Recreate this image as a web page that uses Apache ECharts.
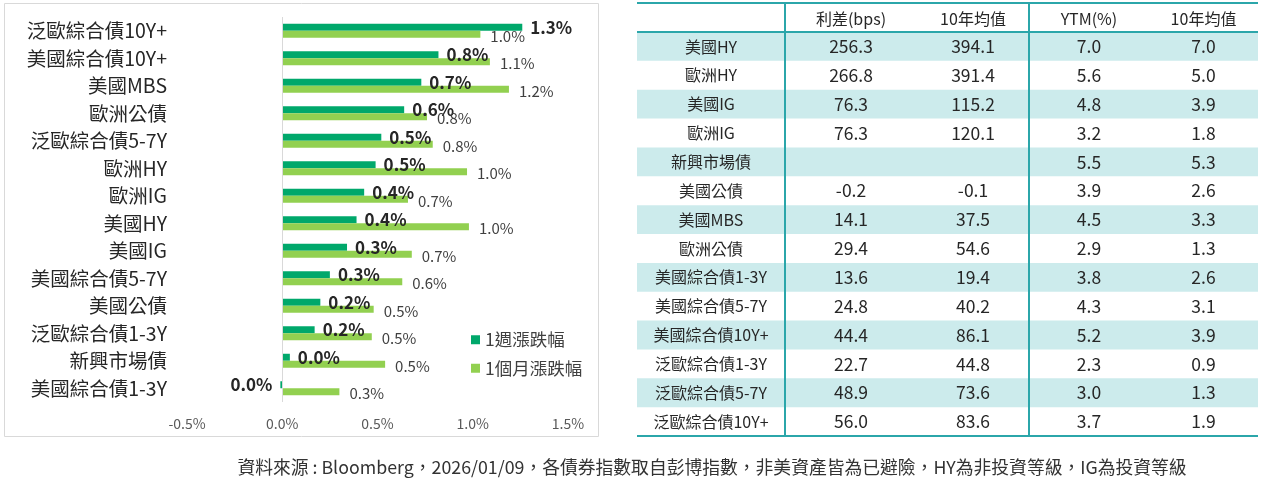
<!DOCTYPE html>
<html>
<head>
<meta charset="utf-8">
<script src="https://cdn.jsdelivr.net/npm/echarts@6/dist/echarts.min.js"></script>
<style>
	html, body { margin: 0; padding: 0; background: #fff; }
	#main { width: 1261px; height: 481px; }
</style>
</head>
<body>
<div id="main"></div>
<script>
// 左圖：漲跌幅 (%)
var categories = ['泛歐綜合債10Y+', '美國綜合債10Y+', '美國MBS', '歐洲公債', '泛歐綜合債5-7Y', '歐洲HY', '歐洲IG',
	'美國HY', '美國IG', '美國綜合債5-7Y', '美國公債', '泛歐綜合債1-3Y', '新興市場債', '美國綜合債1-3Y'];
var weekChg = [1.26, 0.82, 0.73, 0.64, 0.52, 0.49, 0.43, 0.39, 0.34, 0.25, 0.20, 0.17, 0.04, -0.01];
var monthChg = [1.04, 1.09, 1.19, 0.76, 0.79, 0.97, 0.66, 0.98, 0.68, 0.63, 0.48, 0.47, 0.54, 0.30];
var xTicks = [-0.5, 0, 0.5, 1.0, 1.5];

// 右表
var tableHeader = ['', '利差(bps)', '10年均值', 'YTM(%)', '10年均值'];
var tableNames = ['美國HY', '歐洲HY', '美國IG', '歐洲IG', '新興市場債', '美國公債', '美國MBS', '歐洲公債',
	'美國綜合債1-3Y', '美國綜合債5-7Y', '美國綜合債10Y+', '泛歐綜合債1-3Y', '泛歐綜合債5-7Y', '泛歐綜合債10Y+'];
var spread = [256.3, 266.8, 76.3, 76.3, null, -0.2, 14.1, 29.4, 13.6, 24.8, 44.4, 22.7, 48.9, 56.0];
var spreadAvg = [394.1, 391.4, 115.2, 120.1, null, -0.1, 37.5, 54.6, 19.4, 40.2, 86.1, 44.8, 73.6, 83.6];
var ytm = [7.0, 5.6, 4.8, 3.2, 5.5, 3.9, 4.5, 2.9, 3.8, 4.3, 5.2, 2.3, 3.0, 3.7];
var ytmAvg = [7.0, 5.0, 3.9, 1.8, 5.3, 2.6, 3.3, 1.3, 2.6, 3.1, 3.9, 0.9, 1.3, 1.9];

var sourceText = '資料來源 : Bloomberg，2026/01/09，各債券指數取自彭博指數，非美資產皆為已避險，HY為非投資等級，IG為投資等級';

var FONT = '"Noto Sans CJK TC", "Noto Sans", sans-serif';
var chart = echarts.init(document.getElementById('main'));

function pct(v) {
	return (Math.round(v * 10) / 10).toFixed(1) + '%';
}

// 表格
function buildTable() {
	var colEdges = [637, 785, 917, 1029, 1149, 1258];
	var top = 3, headH = 29, rowH = 28.86;
	var lineColor = '#2BA6AA';
	var els = [];
	var cols = [tableNames, spread, spreadAvg, ytm, ytmAvg];
	var bottom = top + headH + rowH * tableNames.length;

	for (var i = 0; i < tableNames.length; i++) {
		var y = top + headH + rowH * i;
		if (i % 2 == 0) {
			els.push({
				type: 'rect',
				shape: { x: colEdges[0], y: y, width: colEdges[5] - colEdges[0], height: rowH },
				style: { fill: '#CCEBEC' },
				silent: true
			});
		}
		for (var c = 0; c < cols.length; c++) {
			var v = cols[c][i];
			var txt = c == 0 ? v : (v == null ? '' : v.toFixed(1));
			els.push({
				type: 'text',
				x: (colEdges[c] + colEdges[c + 1]) / 2,
				y: y + rowH / 2,
				style: {
					text: txt,
					align: 'center',
					verticalAlign: 'middle',
					font: (c == 0 ? '16px ' : '17.5px ') + FONT,
					fill: '#262626'
				},
				silent: true
			});
		}
	}
	for (var h = 0; h < tableHeader.length; h++) {
		els.push({
			type: 'text',
			x: (colEdges[h] + colEdges[h + 1]) / 2,
			y: top + headH / 2 + 1,
			style: {
				text: tableHeader[h],
				align: 'center',
				verticalAlign: 'middle',
				font: '16px ' + FONT,
				fill: '#262626'
			},
			silent: true
		});
	}
	// 線
	[top, top + headH, bottom].forEach(function(yy) {
		els.push({
			type: 'line',
			shape: { x1: colEdges[0], y1: yy, x2: colEdges[5], y2: yy },
			style: { stroke: lineColor, lineWidth: 2 },
			silent: true
		});
	});
	[colEdges[1], colEdges[3]].forEach(function(xx) {
		els.push({
			type: 'line',
			shape: { x1: xx, y1: top, x2: xx, y2: bottom },
			style: { stroke: lineColor, lineWidth: 2 },
			silent: true
		});
	});
	return els;
}

var graphics = [{
	type: 'rect',
	shape: { x: 4.5, y: 3.5, width: 594, height: 433 },
	style: { fill: 'none', stroke: '#d9d9d9', lineWidth: 1 },
	silent: true
}, {
	type: 'text',
	x: 712,
	y: 467,
	style: {
		text: sourceText,
		align: 'center',
		verticalAlign: 'middle',
		font: '17.8px ' + FONT,
		fill: '#333'
	},
	silent: true
}].concat(buildTable());

var option = {
	animation: false,
	textStyle: { fontFamily: FONT },
	color: ['#00A86B', '#92D050'],
	grid: {
		left: 187,
		right: 693,
		top: 17,
		height: 385,
		containLabel: false
	},
	legend: {
		orient: 'vertical',
		left: 466,
		top: 326,
		icon: 'rect',
		itemWidth: 9,
		itemHeight: 9,
		itemGap: 11,
		textStyle: { fontSize: 17.5, color: '#404040' },
		data: ['1週漲跌幅', '1個月漲跌幅']
	},
	xAxis: {
		type: 'value',
		min: xTicks[0],
		max: xTicks[xTicks.length - 1],
		interval: 0.5,
		axisLine: { show: false },
		axisTick: { show: false },
		splitLine: { show: false },
		axisLabel: {
			margin: 15,
			fontSize: 14,
			color: '#595959',
			formatter: function(v) { return v.toFixed(1) + '%'; }
		}
	},
	yAxis: {
		type: 'category',
		inverse: true,
		data: categories,
		axisLine: { show: false },
		axisTick: { show: false },
		axisLabel: {
			margin: 20,
			fontSize: 19.5,
			color: '#262626'
		}
	},
	series: [{
		name: '1週漲跌幅',
		type: 'bar',
		barWidth: 7,
		barGap: '0%',
		data: weekChg.map(function(v) {
			return v < 0 ? { value: v, label: { position: 'left' } } : v;
		}),
		label: {
			show: true,
			position: 'right',
			distance: 8,
			fontSize: 17,
			fontWeight: 'bold',
			color: '#262626',
			formatter: function(p) { return pct(p.value); }
		},
		markLine: {
			silent: true,
			symbol: 'none',
			label: { show: false },
			lineStyle: { color: '#d9d9d9', width: 1, type: 'solid' },
			data: [{ xAxis: 0 }]
		}
	}, {
		name: '1個月漲跌幅',
		type: 'bar',
		barWidth: 7,
		barGap: '0%',
		data: monthChg,
		label: {
			show: true,
			position: 'right',
			distance: 10,
			offset: [0, 2],
			fontSize: 15,
			color: '#404040',
			formatter: function(p) { return pct(p.value); }
		}
	}],
	graphic: graphics
};

chart.setOption(option, true);
</script>
</body>
</html>
